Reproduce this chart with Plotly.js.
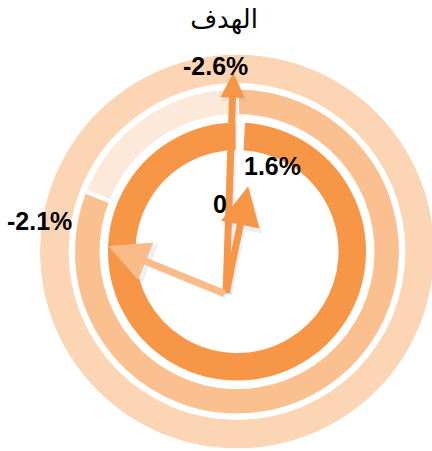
<!DOCTYPE html>
<html>
<head>
<meta charset="utf-8">
<script src="https://cdn.plot.ly/plotly-3.0.1.min.js"></script>
<style>
html,body{margin:0;padding:0;overflow:hidden;background:#fff;}
#chart{width:440px;height:451px;}
</style>
</head>
<body>
<div id="chart"></div>
<script>
// ---- data ----
const titleText = 'الهدف';

// doughnut rings (percent of full circle, clockwise from 12 o'clock)
const innerValues = [0.8, 99.2];
const innerColors = ['#FFFFFF', '#F79646'];
const middleValues = [81, 19];
const middleColors = ['#FAC090', '#FDE9D9'];
const outerValues = [50, 50];
const outerColors = ['#FCD5B5', '#FCD5B5'];

// pointer arrows (angle in degrees clockwise from 12 o'clock, length)
const arrowNames = ['-2.6%', '1.6%', '-2.1%'];
const arrowAngles = [1.9, 11.6, -67.8];
const arrowLengths = [221, 110, 127];
const arrowColors = ['#F79646', '#F79646', '#F9BC88'];
const arrowHeadSizes = [0.7, 1.12, 1.15];

// data labels
const labelTexts = ['-2.6%', '1.6%', '0', '-2.1%'];
const labelX = [-22, 35.5, -17.5, -197.7];
const labelY = [185.5, 85.7, 47.5, 30.2];

// ---- geometry (px units) ----
const W = 440, H = 451;
const cx = 237, cy = 251.5;          // ring centre from top-left
const R = 197;                        // outer radius
const ringInner = [100, 135.5, 168.5];
const ringOuter = [130.5, 164, 197];
const pivot = [-11, -42.5];           // arrow origin relative to ring centre

function ringTrace(values, colors, k, lineW) {
  const theta = [], width = [], base = [], r = [];
  let acc = 0;
  values.forEach(v => {
    const a0 = acc * 3.6, a1 = (acc + v) * 3.6;
    theta.push((a0 + a1) / 2);
    width.push(a1 - a0);
    base.push(ringInner[k]);
    r.push(ringOuter[k] - ringInner[k]);
    acc += v;
  });
  return {
    type: 'barpolar', theta: theta, width: width, base: base, r: r,
    marker: {color: colors, line: {color: lineW ? '#FFFFFF' : colors, width: lineW}},
    hoverinfo: 'skip', showlegend: false
  };
}

const traces = [
  ringTrace(outerValues, outerColors, 2, 0),
  ringTrace(middleValues, middleColors, 1, 4),
  ringTrace(innerValues, innerColors, 0, 3),
  {type: 'scatter', x: [pivot[0]], y: [pivot[1]], mode: 'markers',
   marker: {size: 1, opacity: 0}, hoverinfo: 'skip', showlegend: false}
];

const annotations = [];
arrowAngles.forEach((ang, i) => {
  const rad = ang * Math.PI / 180;
  const tx = pivot[0] + arrowLengths[i] * Math.sin(rad);
  const ty = pivot[1] + arrowLengths[i] * Math.cos(rad);
  // soft shadow
  annotations.push({
    x: tx + 2, y: ty - 2, ax: pivot[0] + 2, ay: pivot[1] - 2,
    xref: 'x', yref: 'y', axref: 'x', ayref: 'y', text: '',
    showarrow: true, arrowhead: 2, arrowsize: arrowHeadSizes[i], arrowwidth: 7.5,
    arrowcolor: 'rgba(140,160,195,0.16)', standoff: 0, startstandoff: 0
  });
  annotations.push({
    x: tx, y: ty, ax: pivot[0], ay: pivot[1],
    xref: 'x', yref: 'y', axref: 'x', ayref: 'y', text: '',
    showarrow: true, arrowhead: 2, arrowsize: arrowHeadSizes[i], arrowwidth: 7,
    arrowcolor: arrowColors[i], standoff: 0, startstandoff: 0
  });
});
labelTexts.forEach((t, i) => {
  annotations.push({
    x: labelX[i], y: labelY[i], xref: 'x', yref: 'y', text: '<b>' + t + '</b>',
    showarrow: false, xanchor: 'center', yanchor: 'middle',
    font: {family: 'Liberation Sans, Arial, sans-serif', size: 25, color: '#000000'}
  });
});

const layout = {
  width: W, height: H,
  margin: {l: 0, r: 0, t: 0, b: 0, pad: 0},
  paper_bgcolor: '#FFFFFF', plot_bgcolor: 'rgba(0,0,0,0)',
  showlegend: false,
  title: {text: titleText, x: 224 / W, xanchor: 'center', xref: 'paper',
          y: 1 - 19 / H, yanchor: 'middle',
          font: {family: 'DejaVu Sans, sans-serif', size: 26, color: '#000000'}},
  polar: {
    domain: {x: [(cx - R) / W, (cx + R) / W], y: [(H - cy - R) / H, (H - cy + R) / H]},
    bgcolor: 'rgba(0,0,0,0)',
    hole: 0,
    radialaxis: {visible: false, range: [0, R], showgrid: false, showline: false, showticklabels: false, ticks: ''},
    angularaxis: {visible: false, rotation: 90, direction: 'clockwise', showgrid: false, showline: false, showticklabels: false, ticks: ''},
    bargap: 0
  },
  xaxis: {domain: [0, 1], range: [-cx, W - cx], visible: false, fixedrange: true, showgrid: false, zeroline: false},
  yaxis: {domain: [0, 1], range: [cy - H, cy], visible: false, fixedrange: true, showgrid: false, zeroline: false},
  annotations: annotations
};

Plotly.newPlot('chart', traces, layout, {displayModeBar: false, staticPlot: true});
</script>
</body>
</html>
